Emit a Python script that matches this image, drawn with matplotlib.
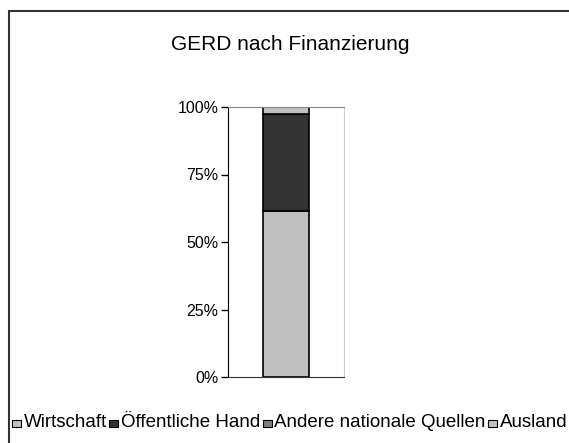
import numpy as np
import matplotlib.pyplot as plt
from matplotlib.patches import Rectangle

plt.rcParams['font.family'] = ['Liberation Sans', 'DejaVu Sans']

# data
categories = ['Wirtschaft', 'Öffentliche Hand', 'Andere nationale Quellen', 'Ausland']
shares = [61.5, 35.9, 0.0, 2.6]
colors = ['#c0c0c0', '#333333', '#808080', '#c0c0c0']
yticks = [0, 25, 50, 75, 100]
ytick_labels = ['0%', '25%', '50%', '75%', '100%']

W, H = 569, 443
fig = plt.figure(figsize=(W / 100, H / 100), dpi=100)
# outer frame
fig.patches.append(Rectangle((9 / W, -0.1), 1.1, 1 - 11 / H + 0.1, transform=fig.transFigure,
                             fill=False, edgecolor='#333333', linewidth=1.5))

ax = fig.add_axes([228 / W, 66 / H, 116 / W, 270 / H])
bottom = 0
for cat, val, col in zip(categories, shares, colors):
    ax.bar(0, val, width=0.4, bottom=bottom, color=col, edgecolor='black', linewidth=1.2, label=cat)
    bottom += val

ax.set_xlim(-0.5, 0.5)
ax.set_ylim(0, 100)
ax.set_yticks(yticks)
ax.set_yticklabels(ytick_labels, fontsize=11.5)
ax.set_xticks([])
ax.tick_params(axis='y', direction='out', length=5, width=1, pad=2)
ax.spines['left'].set_color('black')
ax.spines['bottom'].set_color('#333333')
ax.spines['top'].set_color('#888888')
ax.spines['right'].set_color('#cccccc')

fig.text(0.51, 1 - 45 / H, 'GERD nach Finanzierung', ha='center', va='center', fontsize=15)

# legend drawn by hand so all labels share one baseline
renderer = fig.canvas.get_renderer()
x = 12
base = H - 427
for cat, col in zip(categories, colors):
    fig.patches.append(Rectangle((x / W, base / H), 9 / W, 7 / H, transform=fig.transFigure,
                                 facecolor=col, edgecolor='black', linewidth=0.8))
    t = fig.text((x + 12) / W, base / H, cat, ha='left', va='baseline', fontsize=13.5)
    x = x + 12 + t.get_window_extent(renderer).width + 2

fig.savefig('out.png', dpi=100)
